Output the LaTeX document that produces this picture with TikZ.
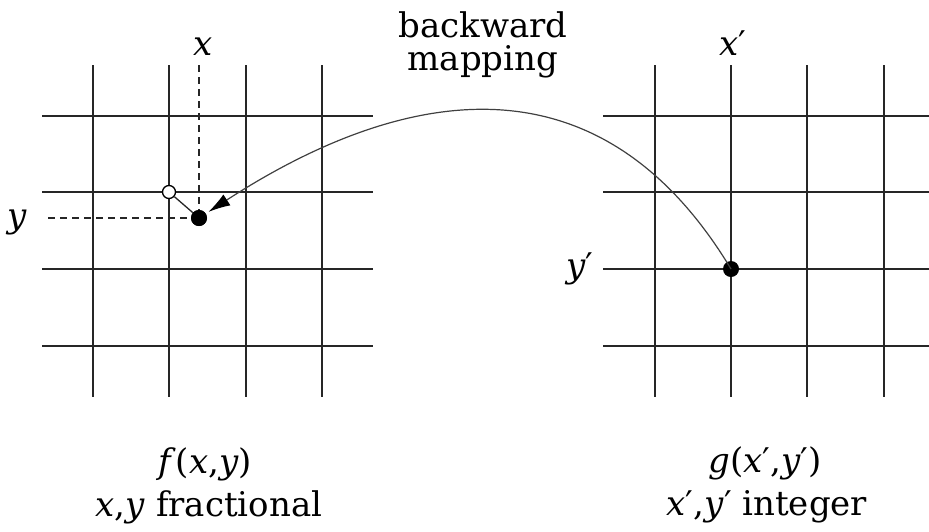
\documentclass[tikz,border=0pt]{standalone}
\usepackage{fontspec}
\setmainfont{DejaVu Serif}
\usetikzlibrary{arrows.meta}
\begin{document}
\begin{tikzpicture}[x=1pt,y=-1pt,
  gridline/.style={line width=1.8pt,black!85},
  guide/.style={line width=1.4pt,black!85,dash pattern=on 7pt off 5pt},
  lbl/.style={font=\rmfamily\fontsize{34}{36}\selectfont,inner sep=0pt,anchor=base},
  fulldot/.style={circle,fill=black,inner sep=0pt,minimum size=16pt},
  opendot/.style={circle,draw=black,line width=1.3pt,fill=white,inner sep=0pt,minimum size=13pt},
  mapcurve/.style={line width=1.2pt,black!75}]
\useasboundingbox (0,0) rectangle (929,531);
% left grid
\foreach \gx in {93,169,246,322} \draw[gridline] (\gx,65) -- (\gx,397);
\foreach \gy in {116,192,269,346} \draw[gridline] (42,\gy) -- (373,\gy);
% right grid
\foreach \gx in {655,731,807,884} \draw[gridline] (\gx,65) -- (\gx,397);
\foreach \gy in {116,192,269,346} \draw[gridline] (603,\gy) -- (929,\gy);
% guides
\coordinate (xtop) at (199,65);
\coordinate (yleft) at (48,218);
\node[fulldot] (p) at (199,218) {};
\node[opendot] (q) at (169,192) {};
\node[fulldot] (r) at (731,269) {};
\draw[guide] (xtop) -- (p.center);
\draw[guide] (yleft) -- (p.center);
\draw[line width=1.3pt,black!85] (q) -- (p);
\node[fulldot] at (p.center) {};
% mapping curve
\draw[mapcurve,-{Latex[length=22pt,width=13pt,color=black]},shorten >=3pt]
  (r.center) .. controls (590,35) and (381,100) .. (p);
% labels
\node[lbl] (lx) at (203,55) {\textit{x}};
\node[lbl] (ly) at (17,227) {\textit{y}};
\node[lbl] (lxp) at (733,55) {\textit{x}′};
\node[lbl] (lyp) at (580,277) {\textit{y}′};
\node[lbl] (t1) at (483,37) {backward};
\node[lbl] (t2) at (483,70) {mapping};
\node[lbl] (f1) at (205,473) {\textit{f}(\textit{x},\textit{y})};
\node[lbl] (f2) at (209,516) {\textit{x},\textit{y} fractional};
\node[lbl] (g1) at (765,472) {\textit{g}(\textit{x}′,\textit{y}′)};
\node[lbl] (g2) at (767,515) {\textit{x}′,\textit{y}′ integer};
\end{tikzpicture}
\end{document}
